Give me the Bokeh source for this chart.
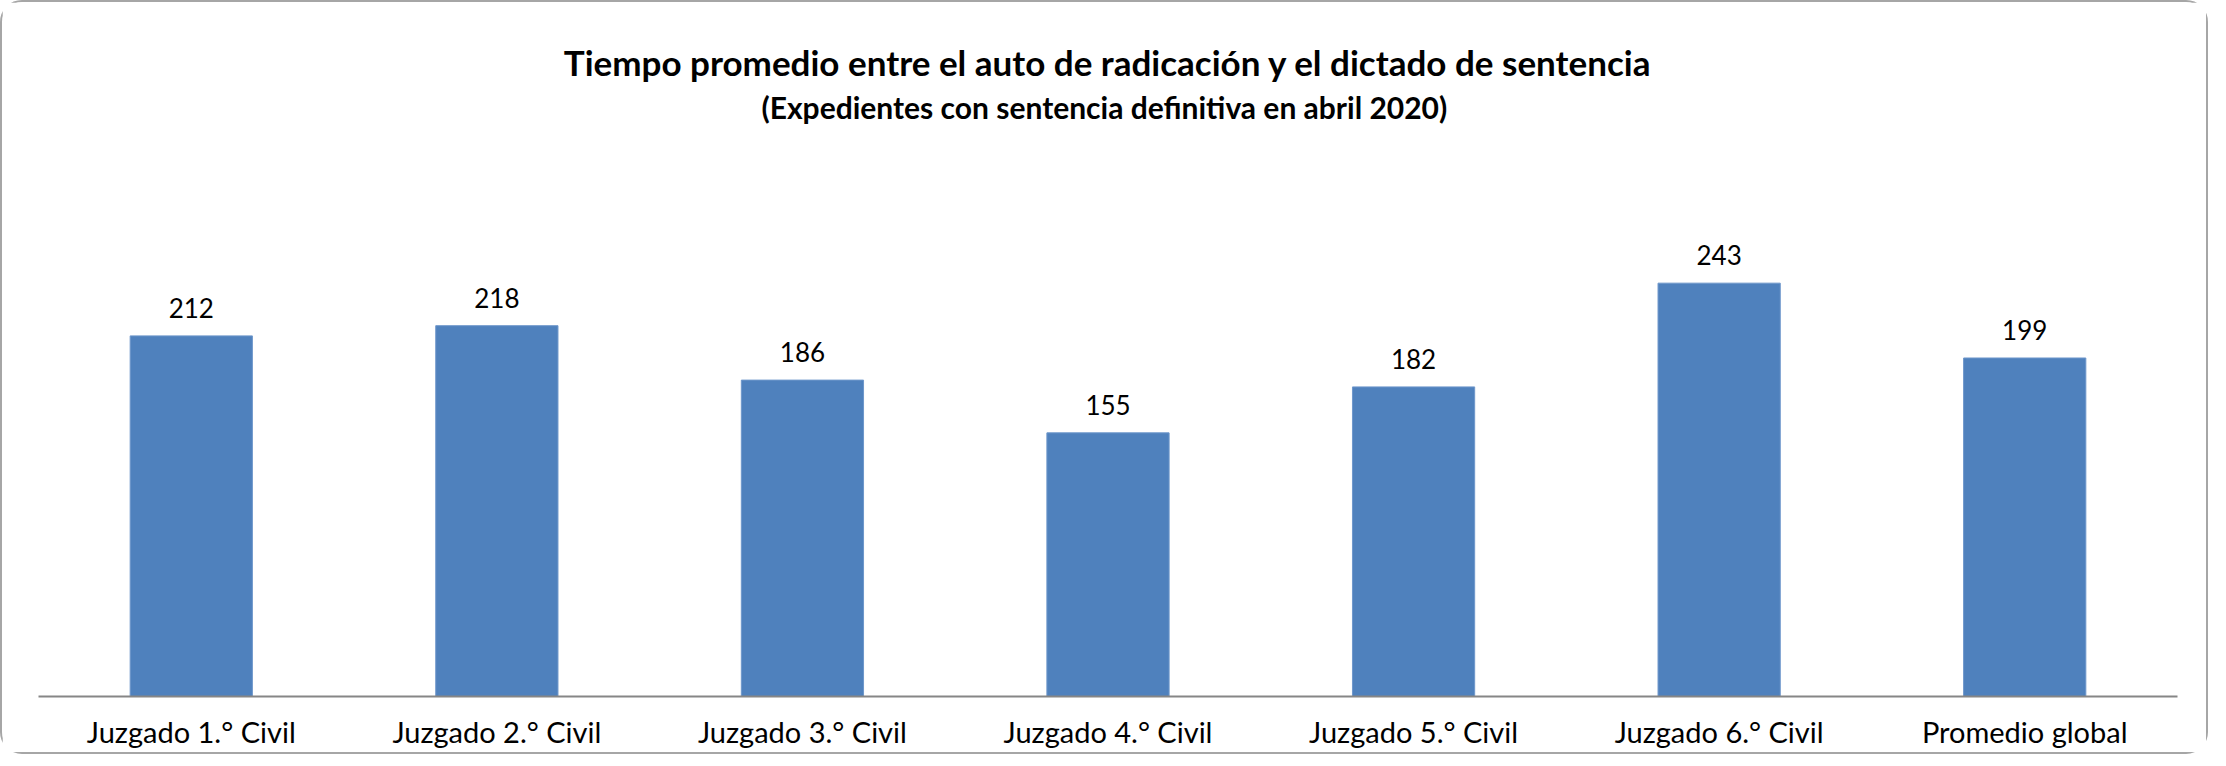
from bokeh.plotting import figure
from bokeh.models import ColumnDataSource, FactorRange, Range1d, LabelSet, Title
from bokeh.core.properties import value
from bokeh.embed import file_html
from bokeh.resources import INLINE

categories = ["Juzgado 1.° Civil", "Juzgado 2.° Civil", "Juzgado 3.° Civil",
              "Juzgado 4.° Civil", "Juzgado 5.° Civil", "Juzgado 6.° Civil",
              "Promedio global"]
values = [212, 218, 186, 155, 182, 243, 199]
labels = [str(v) for v in values]
title_text = "Tiempo promedio entre el auto de radicación y el dictado de sentencia"
subtitle_text = "(Expedientes con sentencia definitiva en abril  2020)"

FONT = "Lato"

src = ColumnDataSource(dict(cat=categories, val=values, lab=labels))

p = figure(width=2208, height=754, title=None,
           x_range=FactorRange(*categories),
           y_range=Range1d(0, 334.5),
           output_backend="svg", toolbar_location=None,
           min_border_left=36, min_border_right=33,
           min_border_bottom=60, min_border_top=10)

sub = Title(text=subtitle_text, align="center", text_font=FONT,
            text_font_size="30px", text_font_style="bold", text_color="#000000",
            standoff=6)
p.add_layout(sub, "above")
main = Title(text=title_text, align="center", text_font=FONT,
             text_font_size="35px", text_font_style="bold", text_color="#000000",
             standoff=1)
p.add_layout(main, "above")
spacer = Title(text=" ", text_font=FONT, text_font_size="28.5px", standoff=0)
p.add_layout(spacer, "above")

p.vbar(x="cat", top="val", width=0.4, source=src,
       fill_color="#4F81BD", line_color="#6E97CB", line_width=1)

p.add_layout(LabelSet(x="cat", y="val", text="lab", source=src,
                      y_offset=28, text_align="center", text_baseline="middle",
                      text_font=value(FONT), text_font_size=value("26px"),
                      text_color="#000000"))

p.xgrid.visible = False
p.ygrid.visible = False
p.yaxis.visible = False
p.outline_line_color = None

ax = p.xaxis[0]
ax.axis_line_color = "#868686"
ax.axis_line_width = 2
ax.major_tick_line_color = None
ax.minor_tick_line_color = None
ax.major_label_text_font = FONT
ax.major_label_text_font_size = "29px"
ax.major_label_text_color = "#000000"
ax.major_label_standoff = 11

p.styles = {"border": "2px solid #A6A6A6", "border-radius": "22px"}

open("out.html", "w").write(file_html(p, INLINE))
